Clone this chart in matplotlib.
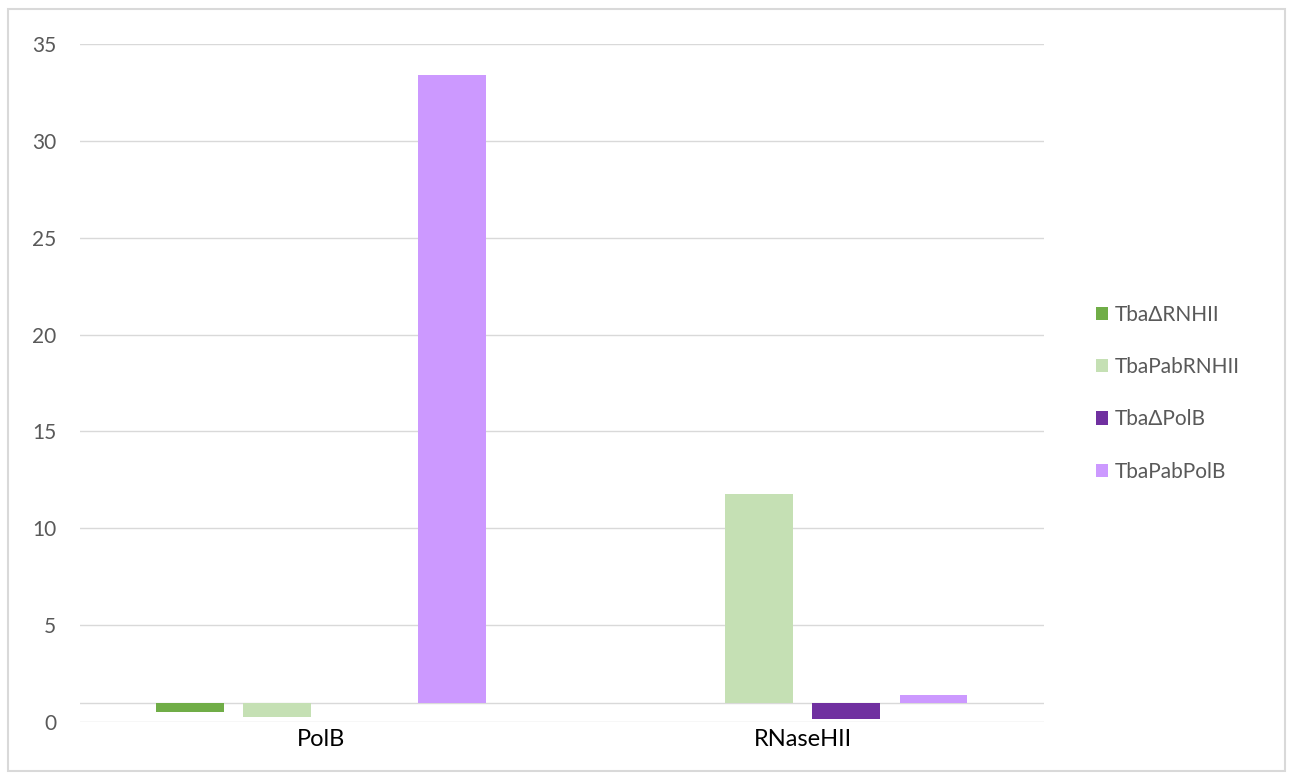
import matplotlib.pyplot as plt
import numpy as np
from matplotlib.patches import Rectangle

plt.rcParams['font.family'] = ['Lato', 'DejaVu Sans']

# data
categories = ['PolB', 'RNaseHII']
series = ['TbaΔRNHII', 'TbaPabRNHII', 'TbaΔPolB', 'TbaPabPolB']
tba_d_rnhii = [0.50, 1.0]
tba_pab_rnhii = [0.27, 11.77]
tba_d_polb = [1.0, 0.14]
tba_pab_polb = [33.4, 1.41]
values = [tba_d_rnhii, tba_pab_rnhii, tba_d_polb, tba_pab_polb]
colors = ['#70AD47', '#C5E0B4', '#7030A0', '#CC99FF']
baseline = 1.0

fig = plt.figure(figsize=(12.9, 7.74), dpi=100)
ax = fig.add_axes([0.062, 0.0672, 0.747, 0.876])

x = np.arange(len(categories))
step = 0.181
width = 0.141
handles = []
for i, (name, vals, c) in enumerate(zip(series, values, colors)):
    v = np.array(vals)
    h = ax.bar(x + (i - 1.5) * step, v - baseline, width, bottom=baseline,
               color=c, label=name, zorder=3)
    handles.append(h)

ax.set_xlim(-0.5, 1.5)
ax.set_ylim(0, 35)
ax.set_yticks(range(0, 36, 5))
ax.yaxis.grid(True, color='#D9D9D9', linewidth=1)
ax.set_axisbelow(True)
ax.axhline(baseline, color='#D9D9D9', linewidth=1, zorder=2)
for s in ax.spines.values():
    s.set_visible(False)
ax.tick_params(axis='y', length=0, pad=17, labelsize=15, labelcolor='#595959')
ax.set_xticks(x)
ax.set_xticklabels(categories)
ax.tick_params(axis='x', length=0, pad=5, labelsize=17, labelcolor='#000000')

fig.legend(handles=handles, labels=series, loc='center left',
           bbox_to_anchor=(0.835, 0.492), frameon=False, fontsize=15,
           labelcolor='#595959', handlelength=0.6, handleheight=0.6,
           handletextpad=0.3, labelspacing=1.55)

fig.patches.append(Rectangle((0.006, 0.004), 0.99, 0.985, transform=fig.transFigure,
                             fill=False, edgecolor='#D9D9D9', linewidth=1.5))

fig.savefig('out.png', dpi=100)
